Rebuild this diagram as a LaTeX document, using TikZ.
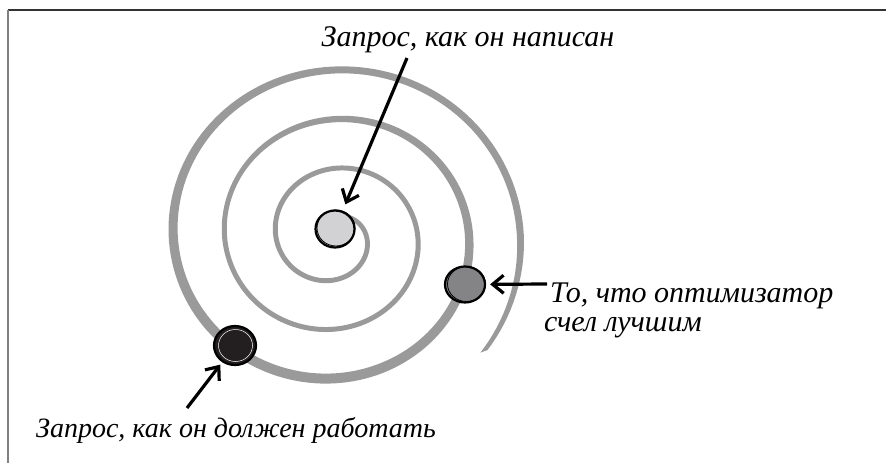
\documentclass[tikz,border=0pt]{standalone}
\usepackage{fontspec}
\setmainfont{Liberation Serif}
\usetikzlibrary{arrows.meta,shapes.geometric}
\definecolor{spiralgray}{HTML}{9A9A9A}
\definecolor{lightball}{HTML}{D2D2D4}
\definecolor{midball}{HTML}{848486}
\definecolor{darkball}{HTML}{231F20}
\definecolor{framedark}{HTML}{333333}
\definecolor{framegray}{HTML}{808080}
\begin{document}
\begin{tikzpicture}[x=1pt,y=-1pt,
  declare function={
    sw(\z) = (\z<1.6) ? 5 : ((\z<2.2) ? 5+5*(\z-1.6)/0.6 : ((\z<2.4) ? 10 : ((\z<2.75) ? 10-3*(\z-2.4)/0.35 : ((\z<3.0) ? 7 : 7-3*(\z-3)/0.11))));
    srx(\z) = 32.5+51.3*\z;
    sry(\z) = 31.2+49.2*\z;
  },
  ball/.style={ellipse, draw=black, line width=2.2pt, inner sep=0pt},
  lbl/.style={font=\itshape\fontsize{30}{32}\selectfont, inner sep=0pt},
  arr/.style={line width=3.2pt, draw=black, -{Straight Barb[length=11pt,width=18pt]}}
]
\useasboundingbox (0,0) rectangle (886,463);
% frame
\draw[framedark, line width=1.5pt] (8,10) -- (886,10);
\draw[framegray, line width=1.5pt] (8,10) -- (8,463);
% spiral
\fill[spiralgray] plot[domain=-0.2:3.11,samples=500,variable=\z]
  ({334+(srx(\z)+sw(\z)/2)*cos(360*\z)},{236.5+(sry(\z)+sw(\z)/2)*sin(360*\z)})
  -- plot[domain=3.11:-0.2,samples=500,variable=\z]
  ({334+(srx(\z)-sw(\z)/2)*cos(360*\z)},{236.5+(sry(\z)-sw(\z)/2)*sin(360*\z)})
  -- cycle;
% balls
\node[ball, fill=lightball, minimum width=39pt, minimum height=37pt] (c1) at (335,229) {};
\node[ball, fill=midball, minimum width=40pt, minimum height=36pt] (c2) at (465,284.5) {};
\node[ball, fill=darkball, minimum width=42pt, minimum height=39pt] (c3) at (235,345.5) {};
\draw[line width=0.8pt] ([xshift=1pt,yshift=1pt]c1.center) ellipse [x radius=19pt, y radius=18pt];
\draw[line width=0.8pt] ([xshift=1.5pt,yshift=0.5pt]c2.center) ellipse [x radius=19pt, y radius=17.5pt];
\draw[white, line width=0.5pt] ([xshift=0.5pt,yshift=0pt]c3.center) ellipse [x radius=17pt, y radius=16pt];
% labels
\node[lbl, anchor=base] (l1) at (468,46) {Запрос, как он написан};
\node[lbl, anchor=base west] (l2) at (550,302) {То, что оптимизатор};
\node[lbl, anchor=base west] (l3) at (544,331) {счел лучшим};
\node[lbl, font=\itshape\fontsize{28}{30}\selectfont, anchor=base] (l4) at (236,437) {Запрос, как он должен работать};
% arrows
\coordinate (a1) at (407,58);
\coordinate (a2) at (547,284);
\coordinate (a3) at (187,408);
\draw[arr, shorten >=7pt] (a1) -- (c1);
\draw[arr, shorten >=4pt] (a2) -- (c2);
\draw[arr, shorten >=3pt] (a3) -- (c3);
\end{tikzpicture}
\end{document}
